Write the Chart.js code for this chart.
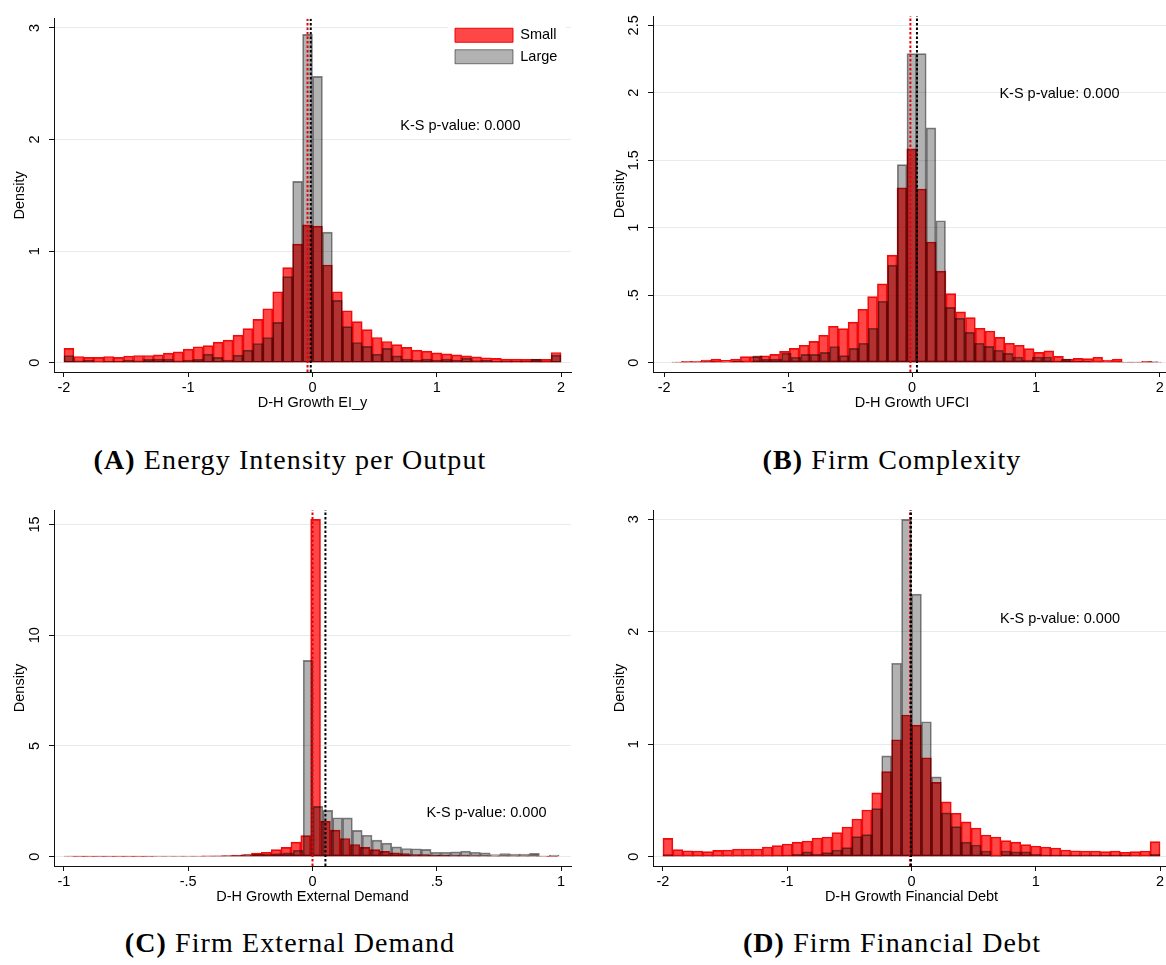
<!DOCTYPE html>
<html lang="en">
<head>
<meta charset="UTF-8">
<title>D-H growth histograms: small vs large firms</title>
<script src="https://cdn.jsdelivr.net/npm/chart.js"></script>
<style>
    html, body { margin: 0; padding: 0; background: #fff; overflow: hidden; }
    #page { position: relative; width: 1166px; height: 965px; overflow: hidden; }
    .panel { position: absolute; width: 590px; height: 440px; }
    .caption { position: absolute; width: 580px; text-align: center; font-family: "Liberation Serif", "Times New Roman", serif;
               font-size: 28px; letter-spacing: 1.1px; line-height: 30px; color: #000; }
</style>
</head>
<body>
<div id="page">
    <div class="panel" style="left:0;top:0"><canvas id="chartA"></canvas></div>
    <div class="panel" style="left:600px;top:0"><canvas id="chartB"></canvas></div>
    <div class="panel" style="left:0;top:480px"><canvas id="chartC"></canvas></div>
    <div class="panel" style="left:600px;top:480px"><canvas id="chartD"></canvas></div>
    <div class="caption" style="left:0;top:445px"><b>(A)</b> Energy Intensity per Output</div>
    <div class="caption" style="left:602px;top:445px"><b>(B)</b> Firm Complexity</div>
    <div class="caption" style="left:0;top:928px"><b>(C)</b> Firm External Demand</div>
    <div class="caption" style="left:602px;top:928px"><b>(D)</b> Firm Financial Debt</div>
</div>
<script>
// ---- data (density per bin) ----
// bins: [first edge, bin width]
const binsSmallA = [-2, 0.08];
const binsLargeA = [-2, 0.08];
const smallA = [0.128, 0.056, 0.048, 0.048, 0.056, 0.048, 0.060, 0.065, 0.065, 0.071,
                0.086, 0.098, 0.122, 0.143, 0.154, 0.184, 0.202, 0.247, 0.306, 0.388,
                0.484, 0.636, 0.852, 1.063, 1.235, 1.224, 0.876, 0.636, 0.466, 0.368,
                0.297, 0.226, 0.190, 0.163, 0.137, 0.113, 0.104, 0.089, 0.080, 0.071,
                0.062, 0.053, 0.045, 0.039, 0.033, 0.033, 0.030, 0.030, 0.030, 0.092];
const largeA = [0.065, 0.018, 0.024, 0.006, 0.015, 0.012, 0.024, 0.018, 0.030, 0.033,
                0.033, 0.018, 0.024, 0.030, 0.077, 0.048, 0.024, 0.068, 0.113, 0.172,
                0.226, 0.362, 0.772, 1.625, 2.943, 2.566, 1.170, 0.559, 0.324, 0.181,
                0.146, 0.077, 0.128, 0.062, 0.033, 0.024, 0.033, 0.024, 0.033, 0.024,
                0.042, 0.020, 0.024, 0.015, 0.015, 0.012, 0.012, 0.033, 0.010, 0.068];
const meansA = [-0.040, -0.014];   // small, large

const binsSmallB = [-1.938, 0.079];
const binsLargeB = [-1.908, 0.0778];
const smallB = [0.003, 0.010, 0.010, 0.020, 0.027, 0.017, 0.027, 0.045, 0.045, 0.050,
                0.062, 0.084, 0.106, 0.129, 0.158, 0.203, 0.270, 0.252, 0.300, 0.396,
                0.490, 0.584, 0.797, 1.295, 1.584, 1.287, 0.894, 0.678, 0.512, 0.376,
                0.334, 0.255, 0.235, 0.188, 0.144, 0.129, 0.104, 0.077, 0.087, 0.047,
                0.027, 0.032, 0.030, 0.040, 0.020, 0.027, 0.005, 0.003, 0.010, 0.003];
const largeB = [0.003, 0.005, 0.005, 0.008, 0.005, 0.005, 0.010, 0.005, 0.050, 0.027,
                0.027, 0.070, 0.040, 0.062, 0.062, 0.077, 0.120, 0.052, 0.106, 0.144,
                0.255, 0.455, 0.723, 1.468, 2.290, 2.290, 1.740, 1.052, 0.410, 0.330,
                0.225, 0.144, 0.121, 0.092, 0.069, 0.042, 0.020, 0.042, 0.042, 0.010,
                0.027, 0.010, 0.010, 0.005, 0.005, 0.005, 0.005, 0.003, 0.003, 0.008];
const meansB = [-0.013, 0.040];

const binsSmallC = [-1.0, 0.0397];
const binsLargeC = [-0.988, 0.0396];
const smallC = [0.020, 0.010, 0.010, 0.015, 0.010, 0.015, 0.010, 0.010, 0.015, 0.020,
                0.020, 0.025, 0.030, 0.030, 0.035, 0.040, 0.050, 0.070, 0.100, 0.160,
                0.200, 0.320, 0.420, 0.660, 0.950, 15.23, 1.600, 1.200, 0.820, 0.550,
                0.420, 0.320, 0.240, 0.180, 0.140, 0.100, 0.090, 0.070, 0.060, 0.050,
                0.045, 0.040, 0.035, 0.030, 0.030, 0.025, 0.020, 0.020, 0.020, 0.015];
const largeC = [0.020, 0.020, 0.025, 0.020, 0.025, 0.020, 0.025, 0.030, 0.025, 0.030,
                0.030, 0.025, 0.030, 0.030, 0.030, 0.040, 0.050, 0.060, 0.090, 0.120,
                0.120, 0.140, 0.170, 0.290, 8.860, 2.270, 2.090, 1.760, 1.750, 1.190,
                0.970, 0.750, 0.610, 0.440, 0.370, 0.360, 0.330, 0.200, 0.200, 0.220,
                0.250, 0.200, 0.180, 0.100, 0.140, 0.120, 0.120, 0.150, 0.020, 0.070];
const meansC = [0.000, 0.052];

const binsSmallD = [-2, 0.08];
const binsLargeD = [-2, 0.08];
const smallD = [0.163, 0.062, 0.053, 0.050, 0.045, 0.056, 0.059, 0.068, 0.068, 0.068,
                0.086, 0.098, 0.113, 0.130, 0.139, 0.166, 0.175, 0.214, 0.264, 0.335,
                0.415, 0.567, 0.757, 1.040, 1.260, 1.170, 0.880, 0.660, 0.487, 0.386,
                0.310, 0.255, 0.193, 0.175, 0.142, 0.130, 0.107, 0.095, 0.086, 0.077,
                0.059, 0.053, 0.050, 0.050, 0.045, 0.050, 0.039, 0.045, 0.050, 0.134];
const largeD = [0.018, 0.006, 0.004, 0.004, 0.004, 0.004, 0.004, 0.004, 0.008, 0.006,
                0.006, 0.008, 0.010, 0.024, 0.042, 0.024, 0.036, 0.059, 0.080, 0.178,
                0.196, 0.427, 0.896, 1.720, 3.000, 2.335, 1.200, 0.710, 0.390, 0.267,
                0.130, 0.104, 0.050, 0.003, 0.050, 0.042, 0.042, 0.024, 0.012, 0.015,
                0.015, 0.012, 0.015, 0.012, 0.012, 0.012, 0.015, 0.006, 0.006, 0.024];
const meansD = [-0.012, -0.004];

// axes
const xTicksWide = [-2, -1, 0, 1, 2];
const xTicksC = [-1, -0.5, 0, 0.5, 1];
const yTicksA = [0, 1, 2, 3];
const yTicksB = [0, 0.5, 1, 1.5, 2, 2.5];
const yTicksC = [0, 5, 10, 15];
const yTicksD = [0, 1, 2, 3];
const ksLabel = 'K-S p-value: 0.000';

// ---- styling ----
Chart.defaults.font.family = '"Liberation Sans", Arial, sans-serif';
Chart.defaults.font.size = 14.5;
Chart.defaults.color = '#000';
Chart.defaults.animation = false;

const SMALL_FILL = 'rgba(255, 0, 0, 0.72)';
const SMALL_EDGE = 'rgba(235, 0, 0, 0.95)';
const LARGE_FILL = 'rgba(0, 0, 0, 0.30)';
const LARGE_EDGE = 'rgba(0, 0, 0, 0.48)';
const GRID = '#e4ecee';
const AXIS = '#111';
const X_AXIS_H = 44;

function toBins(heights, bins) {
    return heights.map((h, i) => ({ x: bins[0] + (i + 0.5) * bins[1], y: h }));
}

// stata style numbers: .5, -.5
function stataNum(v) {
    return String(Math.round(v * 100) / 100).replace(/^(-?)0\./, '$1.');
}

// K-S annotation written at data coordinates
const ksNote = {
    id: 'ksNote',
    afterDatasetsDraw(chart, args, opts) {
        const { ctx, scales } = chart;
        ctx.save();
        ctx.font = '14.5px "Liberation Sans", Arial, sans-serif';
        ctx.fillStyle = '#000';
        ctx.textAlign = 'center';
        ctx.textBaseline = 'middle';
        ctx.fillText(opts.text, scales.x.getPixelForValue(opts.at[0]), scales.y.getPixelForValue(opts.at[1]));
        ctx.restore();
    }
};

// moves the chartArea legend to the top-right corner, on a white patch
const legendSpot = {
    id: 'legendSpot',
    afterLayout(chart, args, opts) {
        chart.legend.left = opts.left;
        chart.legend.top = opts.top;
    },
    beforeDatasetsDraw(chart, args, opts) {
        const ctx = chart.ctx;
        ctx.save();
        ctx.fillStyle = '#fff';
        ctx.fillRect(opts.left, chart.chartArea.top, opts.right - opts.left, opts.bottom - chart.chartArea.top);
        ctx.restore();
        chart.legend.draw();
    }
};

function drawPanel(id, p) {
    const W = 590, H = 440;
    const [yMin, yMax] = p.yRange;
    const vline = m => [{ x: m, y: yMin }, { x: m, y: yMax }];
    const bar = { barPercentage: 1, categoryPercentage: 1, borderWidth: 1, borderSkipped: false, grouped: false };
    const mean = { type: 'line', xAxisID: 'x', borderWidth: 2, borderDash: [2.5, 2], pointRadius: 0, fill: false };
    const plugins = [ksNote];
    if (p.legend) plugins.push(legendSpot);

    new Chart(document.getElementById(id), {
        type: 'bar',
        data: {
            datasets: [
                { ...bar, label: 'Small', data: toBins(p.small, p.smallBins), xAxisID: 'x', order: 2,
                  backgroundColor: SMALL_FILL, borderColor: SMALL_EDGE },
                { ...bar, label: 'Large', data: toBins(p.large, p.largeBins), xAxisID: 'x2', order: 1,
                  backgroundColor: LARGE_FILL, borderColor: LARGE_EDGE },
                { ...mean, label: 'mean small', data: vline(p.means[0]), order: 0, borderColor: '#e8000b' },
                { ...mean, label: 'mean large', data: vline(p.means[1]), order: -1, borderColor: '#000' }
            ]
        },
        plugins: plugins,
        options: {
            responsive: true,
            maintainAspectRatio: false,
            devicePixelRatio: 1,
            events: [],
            layout: { padding: { left: 0, top: p.area.top, right: W - p.area.right, bottom: H - p.area.bottom - X_AXIS_H } },
            scales: {
                x: {
                    type: 'linear', min: p.xRange[0], max: p.xRange[1], offset: false,
                    afterBuildTicks: s => { s.ticks = p.xTicks.map(v => ({ value: v })); },
                    afterFit: s => { s.height = X_AXIS_H; },
                    ticks: { callback: stataNum, padding: 2, maxRotation: 0, autoSkip: false },
                    grid: { offset: false, drawOnChartArea: false, tickLength: 5, tickColor: AXIS, tickWidth: 1 },
                    border: { color: AXIS, width: 1 },
                    title: { display: true, text: p.xTitle, padding: { top: 0, bottom: 4 } }
                },
                x2: { type: 'linear', min: p.xRange[0], max: p.xRange[1], offset: false, grid: { offset: false }, display: false },
                y: {
                    min: yMin, max: yMax,
                    afterBuildTicks: s => { s.ticks = p.yTicks.map(v => ({ value: v })); },
                    afterFit: s => { s.width = p.area.left; },
                    ticks: { callback: stataNum, minRotation: 90, maxRotation: 90, crossAlign: 'center', padding: p.yTickPad },
                    grid: { color: GRID, lineWidth: 1, tickLength: 5, tickColor: AXIS, tickWidth: 1 },
                    border: { color: AXIS, width: 1 },
                    title: { display: true, text: 'Density', padding: { top: 11, bottom: 0 } }
                }
            },
            plugins: {
                tooltip: { enabled: false },
                legend: p.legend ? {
                    display: true, position: 'chartArea', align: 'start',
                    labels: {
                        boxWidth: 58, boxHeight: 14, padding: 7, color: '#000',
                        font: { size: 14.5 },
                        filter: item => item.datasetIndex < 2,
                        sort: (a, b) => a.datasetIndex - b.datasetIndex
                    }
                } : { display: false },
                legendSpot: p.legend || {},
                ksNote: { text: ksLabel, at: p.notePos }
            }
        }
    });
}

drawPanel('chartA', {
    small: smallA, large: largeA, smallBins: binsSmallA, largeBins: binsLargeA, means: meansA,
    xRange: [-2.08, 2.08], yRange: [-0.083, 3.083], xTicks: xTicksWide, yTicks: yTicksA,
    xTitle: 'D-H Growth EI_y', notePos: [1.19, 2.12], yTickPad: 10,
    area: { left: 54, top: 16, right: 571, bottom: 372 },
    legend: { left: 448, top: 21, right: 566, bottom: 70 }
});
drawPanel('chartB', {
    small: smallB, large: largeB, smallBins: binsSmallB, largeBins: binsLargeB, means: meansB,
    xRange: [-2.09, 2.09], yRange: [-0.069, 2.569], xTicks: xTicksWide, yTicks: yTicksB,
    xTitle: 'D-H Growth UFCI', notePos: [1.19, 1.99], yTickPad: 4,
    area: { left: 53, top: 16, right: 571, bottom: 372 }
});
drawPanel('chartC', {
    small: smallC, large: largeC, smallBins: binsSmallC, largeBins: binsLargeC, means: meansC,
    xRange: [-1.04, 1.04], yRange: [-0.42, 15.65], xTicks: xTicksC, yTicks: yTicksC,
    xTitle: 'D-H Growth External Demand', notePos: [0.70, 1.97], yTickPad: 6,
    area: { left: 54, top: 30, right: 571, bottom: 386 }
});
drawPanel('chartD', {
    small: smallD, large: largeD, smallBins: binsSmallD, largeBins: binsLargeD, means: meansD,
    xRange: [-2.08, 2.08], yRange: [-0.083, 3.083], xTicks: xTicksWide, yTicks: yTicksD,
    xTitle: 'D-H Growth Financial Debt', notePos: [1.195, 2.11], yTickPad: 10,
    area: { left: 53, top: 30, right: 570, bottom: 386 }
});
</script>
</body>
</html>
